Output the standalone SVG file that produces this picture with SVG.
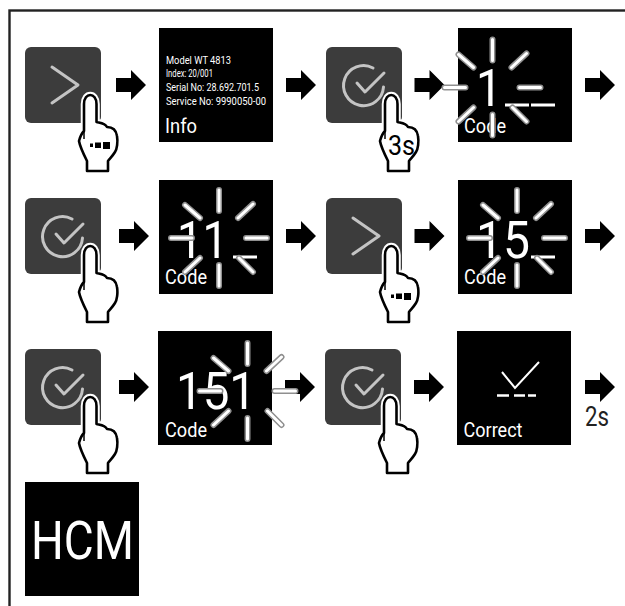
<svg xmlns="http://www.w3.org/2000/svg" width="625" height="606" viewBox="0 0 625 606">
<style>
.btn{fill:#3c3c3c}
.scr{fill:#000}
.ic{fill:none;stroke:#c4c4c4;stroke-width:3;stroke-linecap:round;stroke-linejoin:round}
text{font-family:Roboto,"Liberation Sans",sans-serif}
.w{fill:#fff}
.big{font-size:51px;font-weight:400}
.lab{font-size:21px;font-weight:400}
.sm{font-size:10px}
.ul{stroke:#fff;stroke-width:3;fill:none}
.rayo{stroke:#8f8f8f;stroke-width:6;stroke-linecap:round;fill:none}
.rayi{stroke:#fff;stroke-width:3;stroke-linecap:round;fill:none}
.hh{stroke:#fff;stroke-width:6.500;fill:#fff;stroke-linejoin:round}
.hb{stroke:#000;stroke-width:2.600;fill:#fff;stroke-linejoin:round}
</style>
<defs>
<path id="ar" d="M0,-7 H15 V-15 L30,0 L15,15 V7 H0 Z" fill="#000"/>
<g id="chev"><rect class="btn" width="76" height="76" rx="6"/><path class="ic" d="M27,20 L53,38 L27,56"/></g>
<g id="chk"><rect class="btn" width="76" height="76" rx="6"/><path class="ic" d="M47,21 A20,20 0 1 0 57.500,40"/><path class="ic" d="M31,36 L39,45 L58,26"/></g>
<g id="hand">
<path class="hh" d="M59,84 L59,57 C59,45 71.500,45 71.500,57 L71.500,75 C76,76 80,76 82,80 C86,80 91,82 92,89 C93,95 92,102 90,105 C87,110 84,112 83,114 L83,124 L62,124 L62,114 C58,106 55,100 54,94 C55,90 57,86 59,84 Z"/>
<path class="hb" d="M59,84 L59,57 C59,45 71.500,45 71.500,57 L71.500,75 C76,76 80,76 82,80 C86,80 91,82 92,89 C93,95 92,102 90,105 C87,110 84,112 83,114 L83,124 L62,124 L62,114 C58,106 55,100 54,94 C55,90 57,86 59,84 Z"/>
<path d="M59,82 V92" stroke="#000" stroke-width="1.500" fill="none"/>
</g>
<g id="dots"><rect x="65" y="96.500" width="3" height="3.500"/><rect x="70" y="95.500" width="6" height="5.500"/><rect x="78" y="95" width="7" height="7"/></g>
<g id="rays">
<path class="rayo" d="M0,-48 V-27 M0,27 V48 M-48,0 H-27 M27,0 H48 M-34,-33 L-19,-20 M19,-20 L34,-34 M-34,34 L-19,20 M20,20 L34,34"/>
<path class="rayi" d="M0,-48 V-27 M0,27 V48 M-48,0 H-27 M27,0 H48 M-34,-33 L-19,-20 M19,-20 L34,-34 M-34,34 L-19,20 M20,20 L34,34"/>
</g>
</defs>
<rect id="frame" x="9.500" y="10.500" width="720" height="700" fill="none" stroke="#222" stroke-width="2.400"/>

<g id="connectors">
<use href="#ar" x="116" y="85"/><use href="#ar" x="286" y="85"/><use href="#ar" x="414.500" y="85"/><use href="#ar" x="585" y="85"/>
<use href="#ar" x="119" y="236"/><use href="#ar" x="286" y="236"/><use href="#ar" x="414.500" y="236"/><use href="#ar" x="585" y="236"/>
<use href="#ar" x="119" y="387"/><use href="#ar" x="285" y="387"/><use href="#ar" x="414" y="387"/><use href="#ar" x="585" y="387"/>
</g>

<g id="btn1"><use href="#chev" x="25" y="47"/><use href="#hand" x="25" y="47"/><use href="#dots" x="25" y="47"/></g>
<g id="info"><rect class="scr" x="159" y="28" width="114" height="114"/>
<text class="w sm" x="166" y="63.500" textLength="65" lengthAdjust="spacingAndGlyphs">Model WT 4813</text>
<text class="w sm" x="166" y="77" textLength="47" lengthAdjust="spacingAndGlyphs">Index: 20/001</text>
<text class="w sm" x="166" y="91" textLength="93" lengthAdjust="spacingAndGlyphs">Serial No: 28.692.701.5</text>
<text class="w sm" x="166" y="105" textLength="100" lengthAdjust="spacingAndGlyphs">Service No: 9990050-00</text>
<text class="w lab" x="165" y="133" textLength="32" lengthAdjust="spacingAndGlyphs">Info</text></g>
<g id="btn2"><use href="#chk" x="326" y="47"/><use href="#hand" x="326" y="47"/><text x="388" y="155" font-size="28" fill="#000" textLength="27" lengthAdjust="spacingAndGlyphs">3s</text></g>
<g id="code1"><rect class="scr" x="458" y="28" width="114" height="114"/>
<text class="w big" x="476" y="106" textLength="26" lengthAdjust="spacingAndGlyphs">1</text>
<path class="ul" d="M505,105 H529 M531,105 H555"/>
<text class="w lab" x="464" y="133" textLength="42" lengthAdjust="spacingAndGlyphs">Code</text>
<use href="#rays" x="492.500" y="87.500"/></g>

<g id="btn3"><use href="#chk" x="25" y="198"/><use href="#hand" x="25" y="198"/></g>
<g id="code11"><rect class="scr" x="159" y="180" width="114" height="114"/>
<text class="w big" x="177" y="258" textLength="51" lengthAdjust="spacingAndGlyphs">11</text>
<path class="ul" d="M233,257 H257"/>
<text class="w lab" x="165" y="284" textLength="42" lengthAdjust="spacingAndGlyphs">Code</text>
<use href="#rays" x="219" y="238"/></g>
<g id="btn4"><use href="#chev" x="326" y="198"/><use href="#hand" x="326" y="198"/><use href="#dots" x="326" y="198"/></g>
<g id="code15"><rect class="scr" x="458" y="180" width="114" height="114"/>
<text class="w big" x="476" y="258" textLength="54" lengthAdjust="spacingAndGlyphs">15</text>
<path class="ul" d="M531,257 H555"/>
<text class="w lab" x="464" y="284" textLength="42" lengthAdjust="spacingAndGlyphs">Code</text>
<use href="#rays" x="517" y="238"/></g>

<g id="btn5"><use href="#chk" x="25" y="349"/><use href="#hand" x="25" y="349"/></g>
<g id="code151"><rect class="scr" x="158" y="331" width="114" height="114"/>
<text class="w big" x="176" y="409" textLength="80" lengthAdjust="spacingAndGlyphs">151</text>
<text class="w lab" x="165" y="436.500" textLength="42" lengthAdjust="spacingAndGlyphs">Code</text>
<use href="#rays" x="247.500" y="391"/></g>
<g id="btn6"><use href="#chk" x="325" y="349"/><use href="#hand" x="325" y="349"/></g>
<g id="correct"><rect class="scr" x="457" y="331" width="114" height="114"/>
<path d="M502,372 L515,388 L539,362" fill="none" stroke="#fff" stroke-width="2"/>
<path d="M497,395.500 H509 M514,395.500 H525 M528,395.500 H536" stroke="#fff" stroke-width="2.400" fill="none"/>
<text class="w lab" x="463.500" y="436.500" textLength="59" lengthAdjust="spacingAndGlyphs">Correct</text></g>
<text id="t2s" x="585" y="426" font-size="27" fill="#222" textLength="24" lengthAdjust="spacingAndGlyphs">2s</text>
<g id="hcm"><rect class="scr" x="25" y="482" width="114" height="114"/>
<text class="w" x="31" y="559" font-size="53" font-weight="400" textLength="103" lengthAdjust="spacingAndGlyphs">HCM</text></g>
</svg>
